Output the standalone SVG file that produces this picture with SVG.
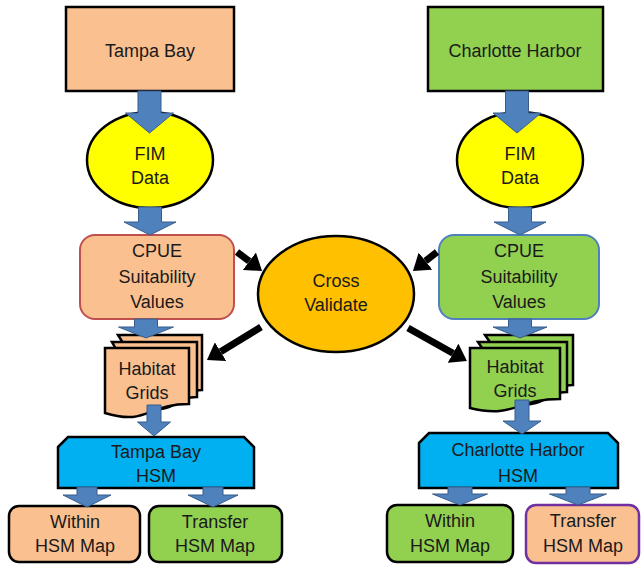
<svg xmlns="http://www.w3.org/2000/svg" width="641" height="566" viewBox="0 0 641 566">
<defs>
<style>
text{font-family:"Liberation Sans",Arial,sans-serif;font-size:18px;fill:#1a1a1a;text-anchor:middle}
.blk{stroke:#000;stroke-width:2.5}
.peach{fill:#fac090}
.green{fill:#92d050}
.ba{fill:#4f81bd;stroke:#385d8a;stroke-width:1}
.bl{stroke:#000;stroke-width:7;fill:none}
</style>
<marker id="ah" markerUnits="userSpaceOnUse" markerWidth="16" markerHeight="22" refX="0" refY="11" orient="auto" viewBox="0 0 16 22">
<path d="M0,0 L16,11 L0,22 Z" fill="#000"/>
</marker>
</defs>
<rect width="641" height="566" fill="#fff"/>

<g id="tampa-bay">
<rect x="66" y="7" width="168" height="84" class="peach blk"/>
<text x="150" y="57">Tampa Bay</text>
</g>
<g id="charlotte-harbor">
<rect x="428" y="7" width="175" height="84" class="green blk"/>
<text x="515" y="57">Charlotte Harbor</text>
</g>

<g id="fim-left">
<ellipse cx="150" cy="160" rx="63" ry="48" fill="#ffff00" class="blk"/>
<text x="150" y="160">FIM</text>
<text x="150" y="184">Data</text>
</g>
<g id="fim-right">
<ellipse cx="520" cy="160" rx="63" ry="48" fill="#ffff00" class="blk"/>
<text x="520" y="160">FIM</text>
<text x="520" y="184">Data</text>
</g>

<g id="cpue-left">
<rect x="80" y="235" width="154" height="84" rx="15" class="peach" stroke="#c0504d" stroke-width="2"/>
<text x="157" y="257">CPUE</text>
<text x="157" y="283">Suitability</text>
<text x="157" y="308">Values</text>
</g>
<g id="cpue-right">
<rect x="439" y="235" width="160" height="84" rx="15" class="green" stroke="#4f81bd" stroke-width="2"/>
<text x="519" y="257">CPUE</text>
<text x="519" y="283">Suitability</text>
<text x="519" y="308">Values</text>
</g>

<g id="cross-validate">
<ellipse cx="336" cy="294" rx="78" ry="58" fill="#ffc000" class="blk"/>
<text x="336" y="287">Cross</text>
<text x="336" y="311">Validate</text>
</g>

<g id="habitat-left">
<path d="M118,335 H202 V390 C181,390 181,405 160,402 Z" class="peach blk"/>
<path d="M112,342 H197 V397 C175,397 175,412 150,409 Z" class="peach blk"/>
<path d="M105,348 H189 V404 C147,404 147,426 105,413 Z" class="peach blk"/>
<text x="147" y="375">Habitat</text>
<text x="147" y="399">Grids</text>
</g>
<g id="habitat-right">
<path d="M485,335 H573 V385 C551,385 551,400 528,397 Z" class="green blk"/>
<path d="M478,342 H567 V392 C545,392 545,407 520,404 Z" class="green blk"/>
<path d="M470,348 H560 V399 C515,399 515,419 470,408 Z" class="green blk"/>
<text x="515" y="373">Habitat</text>
<text x="515" y="397">Grids</text>
</g>

<g id="hsm-left">
<path d="M58,447 L68,437 H244 L254,447 V488 H58 Z" fill="#00b0f0" class="blk"/>
<text x="156" y="458">Tampa Bay</text>
<text x="156" y="482">HSM</text>
</g>
<g id="hsm-right">
<path d="M419,443 L429,433 H608 L618,443 V488 H419 Z" fill="#00b0f0" class="blk"/>
<text x="518" y="456">Charlotte Harbor</text>
<text x="518" y="482">HSM</text>
</g>

<g id="within-left">
<rect x="9" y="506" width="131" height="56" rx="10" class="peach blk"/>
<text x="75" y="528">Within</text>
<text x="75" y="552">HSM Map</text>
</g>
<g id="transfer-left">
<rect x="149" y="506" width="133" height="56" rx="10" class="green blk"/>
<text x="215" y="528">Transfer</text>
<text x="215" y="552">HSM Map</text>
</g>
<g id="within-right">
<rect x="387" y="505" width="126" height="57" rx="10" class="green blk"/>
<text x="450" y="527">Within</text>
<text x="450" y="552">HSM Map</text>
</g>
<g id="transfer-right">
<rect x="526" y="505" width="113" height="58" rx="10" class="peach" stroke="#7030a0" stroke-width="2.5"/>
<text x="583" y="527">Transfer</text>
<text x="583" y="552">HSM Map</text>
</g>

<g id="connectors">
<polygon class="ba" points="138,91 161,91 161,113 173.5,113 149.5,133 125.5,113 138,113"/>
<polygon class="ba" points="505.5,91 528.5,91 528.5,113 541,113 517,133 493,113 505.5,113"/>
<polygon class="ba" points="138.5,207 161.5,207 161.5,222 176,222 150,235 124,222 138.5,222"/>
<polygon class="ba" points="508.5,207 531.5,207 531.5,222 546,222 520,235 494,222 508.5,222"/>
<polygon class="ba" points="134.5,319 157.5,319 157.5,327 173.5,327 146,338 118.5,327 134.5,327"/>
<polygon class="ba" points="508.5,319 531.5,319 531.5,327 547,327 520,338 493,327 508.5,327"/>
<polygon class="ba" points="147,405 161,405 161,422 170.5,422 154,436 137.5,422 147,422"/>
<polygon class="ba" points="515,400 529,400 529,421 541,421 522,434 503,421 515,421"/>
<polygon class="ba" points="77,487 97,487 97,495 111,495 87,507 63,495 77,495"/>
<polygon class="ba" points="203,487 223,487 223,495 238,495 213,507 188,495 203,495"/>
<polygon class="ba" points="448,487 472,487 472,494 487.5,494 460,505 432.5,494 448,494"/>
<polygon class="ba" points="566,487 590,487 590,494 606.5,494 578,505 549.5,494 566,494"/>
<line class="bl" x1="237" y1="252" x2="249.3" y2="261.3" marker-end="url(#ah)"/>
<line class="bl" x1="437" y1="252" x2="425.5" y2="261.1" marker-end="url(#ah)"/>
<line class="bl" x1="261" y1="327" x2="220.6" y2="351.7" marker-end="url(#ah)"/>
<line class="bl" x1="408" y1="328" x2="453" y2="353.2" marker-end="url(#ah)"/>
</g>
</svg>
